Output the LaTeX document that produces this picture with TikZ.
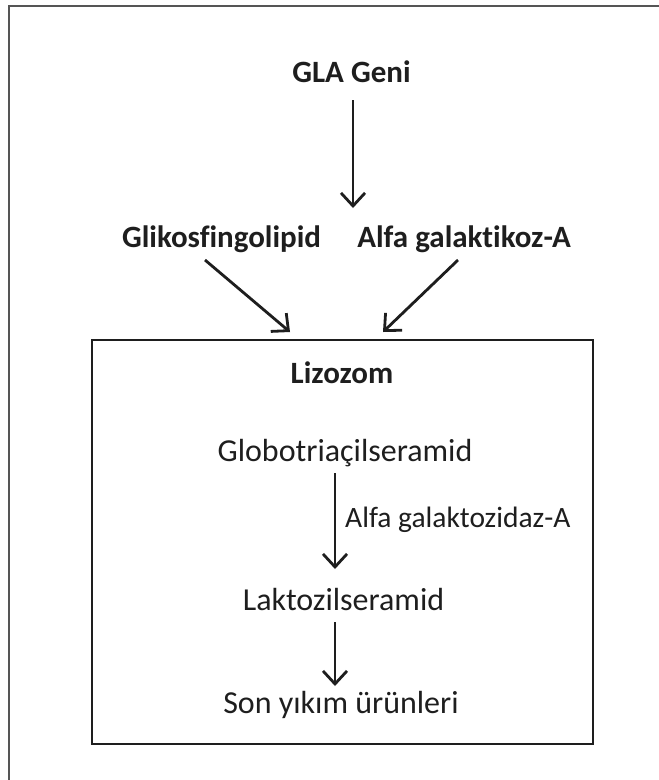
\documentclass[tikz,border=0pt]{standalone}
\usepackage{fontspec}
\setmainfont{Carlito}[Ligatures=NoCommon]
\usetikzlibrary{arrows.meta}
\definecolor{ink}{HTML}{1E1E1E}
\definecolor{frame}{HTML}{555555}
\tikzset{
  x=1pt, y=-1pt,
  boldlbl/.style={font=\fontsize{31}{36}\selectfont\bfseries, text=ink, inner sep=0pt, anchor=base},
  reglbl/.style={font=\fontsize{32}{37}\selectfont, text=ink, inner sep=0pt, anchor=base},
  enzlbl/.style={font=\fontsize{29.5}{34}\selectfont, text=ink, inner sep=0pt, anchor=base west},
  flow/.style={draw=ink, line width=2.8pt, -{Straight Barb[length=13pt,width=24pt,line width=2.8pt]}},
}
\begin{document}
\begin{tikzpicture}
\useasboundingbox (0,0) rectangle (659,780);
% outer frame (only top and left edges visible)
\draw[frame, line width=2pt] (9,780) -- (9,6) -- (659,6);
% lysosome box
\node[draw=ink, line width=2.8pt, minimum width=501pt, minimum height=404pt, inner sep=0pt] (box) at (342.5,542) {};
% labels
\node[boldlbl] (gla) at (351.5,82) {GLA Geni};
\node[boldlbl] (gly) at (221.5,247) {Glikosfingolipid};
\node[boldlbl] (alfa) at (464,247) {Alfa galaktikoz-A};
\node[boldlbl] (lizo) at (342,383) {Lizozom};
\node[reglbl] (glob) at (345,461) {Globotriaçilseramid};
\node[enzlbl] (enz) at (345,527) {Alfa galaktozidaz-A};
\node[reglbl] (lakt) at (343.5,610) {Laktozilseramid};
\node[reglbl] (son) at (341,713) {Son yıkım ürünleri};
% connector endpoints
\coordinate (g1) at (353,100);
\coordinate (g2) at (353,208);
\coordinate (l1) at (205,260);
\coordinate (l2) at (290,332);
\coordinate (r1) at (458,260);
\coordinate (r2) at (383,332);
\coordinate (a1) at (335,473);
\coordinate (a2) at (335,569);
\coordinate (b1) at (335,622);
\coordinate (b2) at (335,686);
\draw[flow] (g1) -- (g2);
\draw[flow] (l1) -- (l2);
\draw[flow] (r1) -- (r2);
\draw[flow] (a1) -- (a2);
\draw[flow] (b1) -- (b2);
\end{tikzpicture}
\end{document}
